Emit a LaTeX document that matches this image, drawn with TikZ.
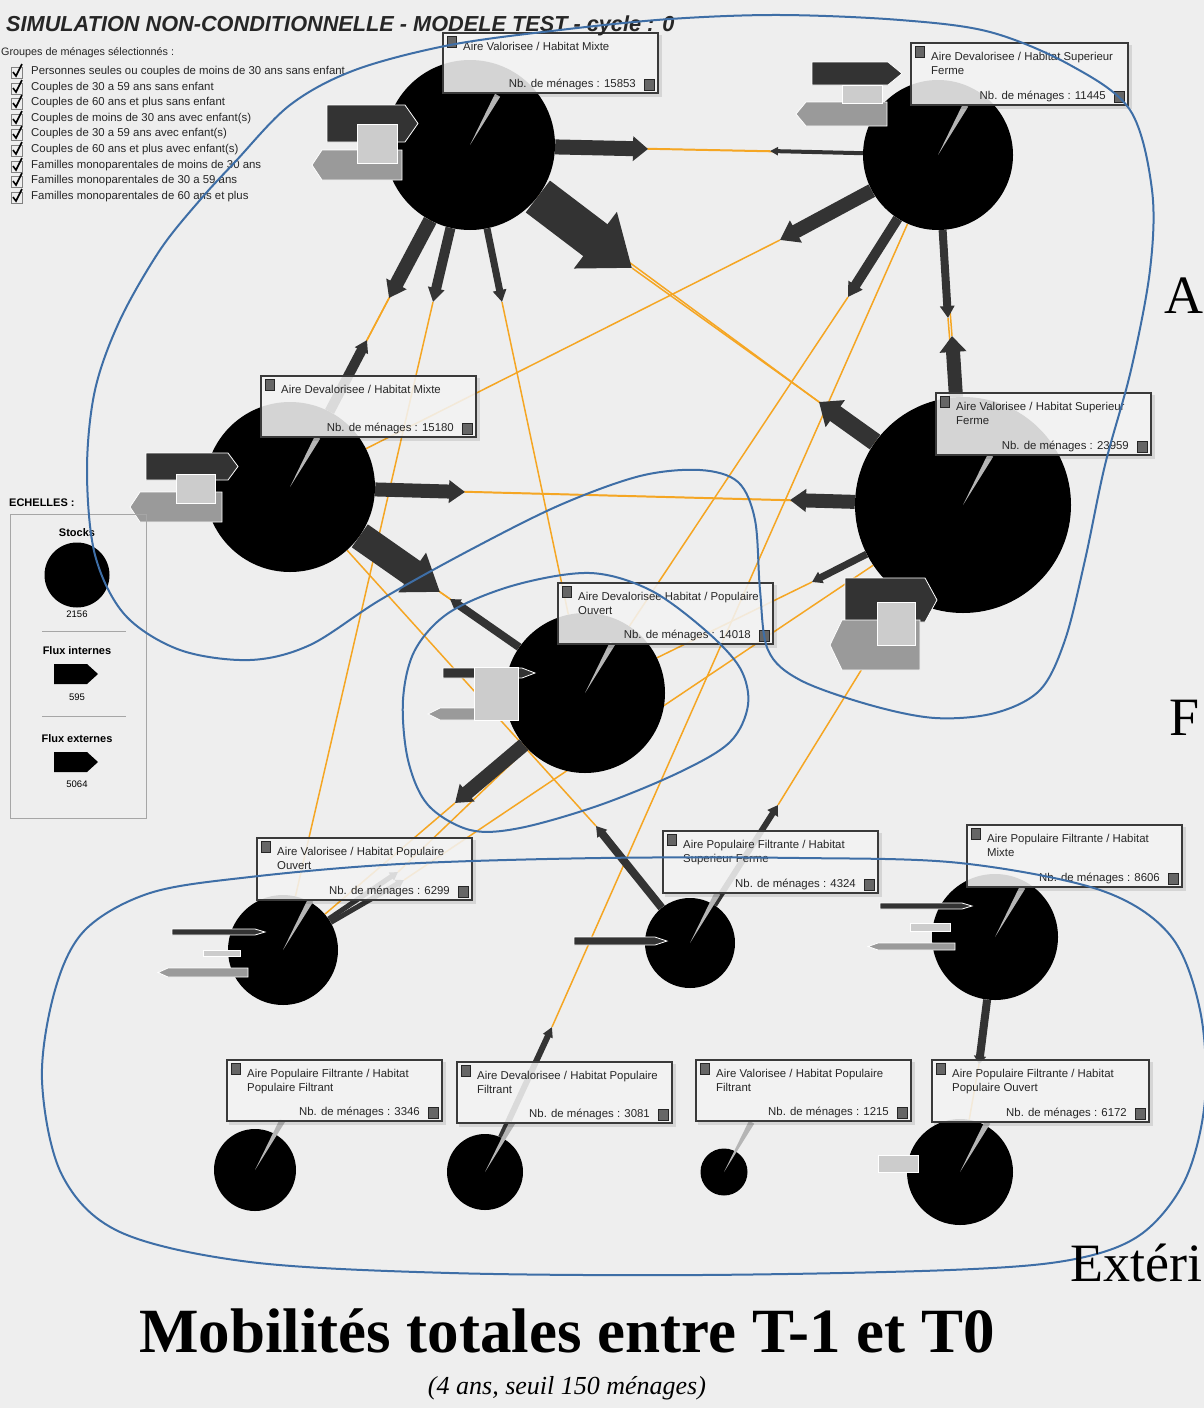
\documentclass[tikz,border=0pt]{standalone}
\usepackage{fontspec}
\setmainfont{Liberation Sans}
\newfontfamily\serifff{Liberation Serif}
\usetikzlibrary{arrows.meta}
\definecolor{bgc}{HTML}{EEEEEE}
\definecolor{orng}{HTML}{F5A623}
\definecolor{flowc}{HTML}{333333}
\definecolor{bluec}{HTML}{3E6EA6}
\definecolor{extd}{HTML}{333333}
\definecolor{extm}{HTML}{9A9A9A}
\definecolor{extl}{HTML}{CCCCCC}
\definecolor{wedgec}{HTML}{B5B5B5}
\definecolor{boxfill}{HTML}{F7F7F7}
\definecolor{boxdraw}{HTML}{3A3A3A}
\definecolor{sqc}{HTML}{666666}
\pgfdeclarelayer{bgl}
\pgfdeclarelayer{orl}
\pgfdeclarelayer{drk}
\pgfsetlayers{bgl,orl,drk,main}
\newcommand\flw[6]{%
 \begin{pgfonlayer}{orl}\draw[oline] (#2) -- (#6);\end{pgfonlayer}%
 \begin{pgfonlayer}{drk}\draw[fline,line width=#3,-{Triangle[length=#4pt,width=#5pt]}] (#1) -- (#2);\end{pgfonlayer}}
\newcommand\wdg[1]{\fill[wedgec] (#1.center) -- ([shift={(-58:57)}]#1.center) -- ([shift={(-64:57)}]#1.center) -- cycle;}
\newcommand\extR[6]{\filldraw[fill=#1,draw=white,line width=0.8] (#2,#3) -- (#4,#3) -- (#6,{(#3+#5)/2}) -- (#4,#5) -- (#2,#5) -- cycle;}
\newcommand\extL[6]{\filldraw[fill=#1,draw=white,line width=0.8] (#2,{(#4+#6)/2}) -- (#3,#4) -- (#5,#4) -- (#5,#6) -- (#3,#6) -- cycle;}
\newcommand\extS[4]{\filldraw[fill=extl,draw=white,line width=0.8] (#1,#2) rectangle (#3,#4);}
\newcommand\lbl[8]{%
 \fill[black,opacity=0.10] (#2+2,#3+2) rectangle (#4+4,#5+4);
 \draw[boxst] (#2,#3) rectangle (#4,#5);
 \draw[sqst] (#2+4,#3+3) rectangle (#2+13,#3+14);
 \draw[sqst] (#4-14,#5-14) rectangle (#4-4,#5-3);
 \node[lt, anchor=base west] (#1a) at (#2+20,#3+17) {#6};
 \node[lt, anchor=base west] (#1b) at (#2+20,#3+31) {#7};
 \node[lt, anchor=base east] (#1c) at (#4-22,#5-6) {Nb. de ménages : #8};}
\newcommand\chk[2]{%
 \draw[gray,line width=0.8] (11,#1-5) rectangle (22,#1+6);
 \draw[black,line width=1.6] (13,#1) -- (16,#1+4) -- (22,#1-8);
 \node[lg] (#2) at (31,#1) {\csname lgtxt#2\endcsname};}
\begin{document}
\begin{tikzpicture}[x=1pt,y=-1pt,
  stock/.style={circle,fill=black,inner sep=0},
  oline/.style={draw=orng,line width=1.5},
  fline/.style={draw=flowc},
  boxst/.style={fill=boxfill,fill opacity=0.86,draw=boxdraw,line width=1.5},
  sqst/.style={fill=sqc,draw=black!85,line width=0.8},
  lt/.style={inner sep=0,font=\fontsize{11.4}{14}\selectfont,text=black!85},
  lg/.style={inner sep=0,anchor=west,font=\fontsize{11.4}{14}\selectfont,text=black!85},
  pt/.style={inner sep=0,font=\bfseries\fontsize{11}{13}\selectfont},
  ps/.style={inner sep=0,font=\fontsize{9.5}{11}\selectfont},
  blueline/.style={draw=bluec,line width=2},
  bigt/.style={inner sep=0,font=\serifff\fontsize{54}{60}\selectfont}
]
\useasboundingbox (0,0) rectangle (1204,1408);
\begin{pgfonlayer}{bgl}
\fill[bgc] (0,0) rectangle (1204,1408);
\end{pgfonlayer}

% ---------- stocks
\node[stock,minimum size=170] (n1) at (470,145) {};
\node[stock,minimum size=150] (n2) at (938,155) {};
\node[stock,minimum size=170] (n3) at (290,487) {};
\node[stock,minimum size=216] (n4) at (963,505) {};
\node[stock,minimum size=160] (n5) at (585,693) {};
\node[stock,minimum size=110] (n6) at (283,950) {};
\node[stock,minimum size=90] (n7) at (690,943) {};
\node[stock,minimum size=126] (n8) at (995,937) {};
\node[stock,minimum size=82] (n9) at (255,1170) {};
\node[stock,minimum size=76] (n10) at (485,1172) {};
\node[stock,minimum size=47] (n11) at (724,1172) {};
\node[stock,minimum size=106] (n12) at (960,1172) {};
\foreach \n in {n1,n2,n3,n4,n5,n6,n7,n8,n9,n10,n11,n12}{\wdg{\n}}

% ---------- flows
\coordinate (t1) at (648,149); \flw{n1}{t1}{15}{15}{24}{n2}
\coordinate (t2) at (632,268); \flw{n1}{t2}{40}{46}{68}{n4}
\coordinate (t3) at (389,298); \flw{n1}{t3}{14}{16}{22}{n3}
\coordinate (t4) at (433,302); \flw{n1}{t4}{10}{14}{16}{n6}
\coordinate (t5) at (502,302); \flw{n1}{t5}{7}{12}{13}{n5}
\coordinate (t6) at (770,151); \flw{n2}{t6}{4}{8}{8}{n1}
\coordinate (t7) at (780,240); \flw{n2}{t7}{14}{18}{24}{n3}
\coordinate (t8) at (848,297); \flw{n2}{t8}{10}{14}{16}{n5}
\coordinate (t9) at (948,318); \flw{n2}{t9}{8}{12}{14}{n4}
\coordinate (t10) at (952,336); \flw{n4}{t10}{14}{16}{26}{n2}
\coordinate (t11) at (819,402); \flw{n4}{t11}{18}{20}{32}{n1}
\coordinate (t12) at (790,500); \flw{n4}{t12}{14}{16}{22}{n3}
\coordinate (t13) at (812,582); \flw{n4}{t13}{7}{10}{12}{n5}
\coordinate (t14) at (367,340); \flw{n3}{t14}{10}{12}{14}{n1}
\coordinate (t15) at (465,492); \flw{n3}{t15}{14}{16}{22}{n4}
\coordinate (t16) at (440,592); \flw{n3}{t16}{28}{34}{46}{n5}
\coordinate (t17) at (450,599); \flw{n5}{t17}{8}{10}{12}{n3}
\coordinate (t18) at (455,803); \flw{n5}{t18}{14}{16}{22}{n6}
\coordinate (t19) at (596,826); \flw{n7}{t19}{8}{10}{12}{n3}
\coordinate (t20) at (778,805); \flw{n7}{t20}{6}{10}{12}{n4}
\coordinate (t21) at (398,872); \flw{n6}{t21}{5}{8}{9}{n5}
\coordinate (t22) at (404,880); \flw{n6}{t22}{5}{8}{9}{n4}
\coordinate (t23) at (552,1027); \flw{n10}{t23}{6}{10}{10}{n2}
\coordinate (t24) at (979,1064); \flw{n8}{t24}{8}{8}{12}{n12}

% ---------- external flows
\extR{extd}{327}{105}{405}{142}{418} \extL{extm}{312}{322}{150}{402}{180} \extS{357}{124}{397}{163}
\extR{extd}{812}{62}{888}{85}{902} \extL{extm}{796}{806}{102}{887}{126} \extS{842}{85}{882}{103}
\extR{extd}{146}{453}{228}{480}{238} \extL{extm}{130}{140}{492}{222}{522} \extS{176}{474}{215}{503}
\extR{extd}{845}{578}{925}{622}{937} \extL{extm}{830}{842}{620}{920}{670} \extS{877}{602}{915}{645}
\extR{extd}{443}{668}{522}{678}{535} \extL{extm}{428}{440}{708}{518}{720} \extS{474}{667}{518}{720}
\extR{extd}{172}{929}{255}{935}{265} \extS{203}{950}{240}{956} \extL{extm}{158}{168}{968}{248}{977}
\extR{extd}{574}{937}{655}{945}{667}
\extR{extd}{880}{903}{962}{909}{972} \extS{910}{923}{950}{931} \extL{extm}{868}{878}{943}{955}{950}
\extS{878}{1155}{918}{1172}

% ---------- labels
\lbl{L1}{443}{33}{658}{93}{Aire Valorisee / Habitat Mixte}{}{15853}
\lbl{L2}{911}{43}{1128}{105}{Aire Devalorisee / Habitat Superieur}{Ferme}{11445}
\lbl{L3}{261}{376}{476}{437}{Aire Devalorisee / Habitat Mixte}{}{15180}
\lbl{L4}{936}{393}{1151}{455}{Aire Valorisee / Habitat Superieur}{Ferme}{23959}
\lbl{L5}{558}{583}{773}{644}{Aire Devalorisee Habitat / Populaire}{Ouvert}{14018}
\lbl{L6}{257}{838}{472}{900}{Aire Valorisee / Habitat Populaire}{Ouvert}{6299}
\lbl{L7}{663}{831}{878}{893}{Aire Populaire Filtrante / Habitat}{Superieur Ferme}{4324}
\lbl{L8}{967}{825}{1182}{887}{Aire Populaire Filtrante / Habitat}{Mixte}{8606}
\lbl{L9}{227}{1060}{442}{1121}{Aire Populaire Filtrante / Habitat}{Populaire Filtrant}{3346}
\lbl{L10}{457}{1062}{672}{1123}{Aire Devalorisee / Habitat Populaire}{Filtrant}{3081}
\lbl{L11}{696}{1060}{911}{1121}{Aire Valorisee / Habitat Populaire}{Filtrant}{1215}
\lbl{L12}{932}{1060}{1149}{1122}{Aire Populaire Filtrante / Habitat}{Populaire Ouvert}{6172}

% ---------- header and legend
\node[inner sep=0,anchor=base west,font=\bfseries\itshape\fontsize{21.7}{24}\selectfont,text=black!85] (title) at (6,31) {SIMULATION NON-CONDITIONNELLE - MODELE TEST - cycle : 0};
\node[lg,font=\fontsize{10.8}{13}\selectfont] (grp) at (1,53) {Groupes de ménages sélectionnés :};
\expandafter\def\csname lgtxta\endcsname{Personnes seules ou couples de moins de 30 ans sans enfant}
\expandafter\def\csname lgtxtb\endcsname{Couples de 30 a 59 ans sans enfant}
\expandafter\def\csname lgtxtc\endcsname{Couples de 60 ans et plus sans enfant}
\expandafter\def\csname lgtxtd\endcsname{Couples de moins de 30 ans avec enfant(s)}
\expandafter\def\csname lgtxte\endcsname{Couples de 30 a 59 ans avec enfant(s)}
\expandafter\def\csname lgtxtf\endcsname{Couples de 60 ans et plus avec enfant(s)}
\expandafter\def\csname lgtxtg\endcsname{Familles monoparentales de moins de 30 ans}
\expandafter\def\csname lgtxth\endcsname{Familles monoparentales de 30 a 59 ans}
\expandafter\def\csname lgtxti\endcsname{Familles monoparentales de 60 ans et plus}
\chk{72}{a}\chk{88}{b}\chk{103}{c}\chk{119}{d}\chk{134}{e}\chk{150}{f}\chk{166}{g}\chk{181}{h}\chk{197}{i}

% ---------- scales panel
\node[pt,anchor=west] (ech) at (9,503) {ECHELLES :};
\draw[black!35,line width=1] (10,514) rectangle (146,818);
\node[pt] (stk) at (77,533) {Stocks};
\node[stock,minimum size=65] (sc) at (77,575) {};
\node[ps] (v1) at (77,614) {2156};
\draw[black!35] (42,631) -- (126,631);
\node[pt] (fi) at (77,651) {Flux internes};
\fill[black] (54,664) -- (87,664) -- (98,674) -- (87,684) -- (54,684) -- cycle;
\node[ps] (v2) at (77,697) {595};
\draw[black!35] (42,716) -- (126,716);
\node[pt] (fe) at (77,739) {Flux externes};
\fill[black] (54,752) -- (87,752) -- (98,762) -- (87,772) -- (54,772) -- cycle;
\node[ps] (v3) at (77,784) {5064};

% ---------- blue outlines
\draw[blueline] plot[smooth cycle,tension=0.55] coordinates {(355,70) (450,45) (560,30) (670,19) (780,15) (900,20) (990,32) (1070,65) (1130,110) (1152,190) (1150,270) (1131,370) (1105,465) (1085,560) (1065,640) (1040,690) (995,713) (935,718) (870,705) (800,680) (768,650) (760,590) (755,520) (738,482) (700,470) (640,476) (560,505) (470,550) (380,600) (310,645) (250,660) (180,650) (125,615) (95,555) (87,470) (95,390) (120,320) (160,250) (200,200) (235,162) (290,105)};
\draw[blueline] plot[smooth cycle,tension=0.55] coordinates {(403,700) (415,650) (450,612) (515,585) (590,573) (650,590) (705,630) (740,668) (748,705) (730,742) (680,772) (600,805) (520,828) (470,830) (428,805) (408,760)};
\draw[blueline] plot[smooth cycle,tension=0.55] coordinates {(42,1080) (55,990) (85,930) (150,893) (250,877) (400,864) (600,858) (800,858) (960,863) (1100,890) (1170,935) (1200,1010) (1205,1100) (1185,1180) (1140,1235) (1070,1260) (950,1270) (700,1275) (450,1273) (250,1262) (120,1232) (62,1175)};

% ---------- side texts and caption
\node[bigt,anchor=base west] (sa) at (1164,313) {A};
\node[bigt,anchor=base west] (sf) at (1169,735) {F};
\node[bigt,anchor=base west] (se) at (1070,1281) {Extéri};
\node[inner sep=0,anchor=base,font=\serifff\bfseries\fontsize{63}{70}\selectfont] (cap) at (567,1352) {Mobilités totales entre T-1 et T0};
\node[inner sep=0,anchor=base,font=\serifff\itshape\fontsize{26}{30}\selectfont] (sub) at (567,1394) {(4 ans, seuil 150 ménages)};
\end{tikzpicture}
\end{document}
